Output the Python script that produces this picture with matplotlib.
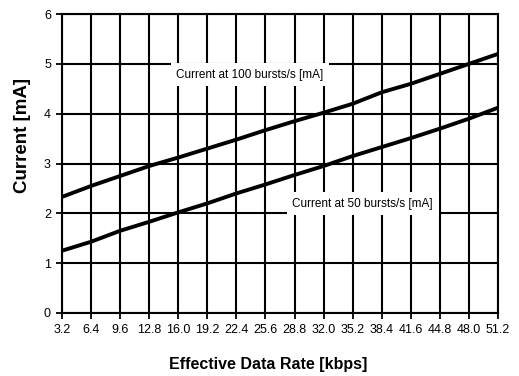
import numpy as np
import matplotlib
matplotlib.use("Agg")
import matplotlib.pyplot as plt

plt.rcParams['font.family'] = ['Liberation Sans Narrow', 'Liberation Sans', 'DejaVu Sans']

rate = [3.2, 6.4, 9.6, 12.8, 16.0, 19.2, 22.4, 25.6, 28.8, 32.0, 35.2, 38.4, 41.6, 44.8, 48.0, 51.2]
cur_100 = [2.33, 2.55, 2.75, 2.95, 3.12, 3.30, 3.48, 3.67, 3.85, 4.02, 4.20, 4.43, 4.60, 4.80, 5.00, 5.20]
cur_50 = [1.25, 1.43, 1.65, 1.83, 2.02, 2.20, 2.40, 2.58, 2.77, 2.95, 3.15, 3.33, 3.51, 3.70, 3.90, 4.12]
tick_labels = ['3.2', '6.4', '9.6', '12.8', '16.0', '19.2', '22.4', '25.6', '28.8',
               '32.0', '35.2', '38.4', '41.6', '44.8', '48.0', '51.2']

fig = plt.figure(figsize=(5.19, 3.76), dpi=100)
ax = fig.add_axes([0.1195, 0.1676, 0.84, 0.795])

ax.plot(rate, cur_100, color='black', lw=2.8, solid_capstyle='butt', zorder=3)
ax.plot(rate, cur_50, color='black', lw=2.8, solid_capstyle='butt', zorder=3)

ax.set_xlim(3.2, 51.2)
ax.set_ylim(0, 6)
ax.set_xticks(rate)
ax.set_xticklabels(tick_labels)
ax.set_yticks(range(7))
ax.grid(True, color='black', lw=1.5)
ax.set_axisbelow(True)
for s in ax.spines.values():
    s.set_linewidth(1.5)
ax.tick_params(axis='both', labelsize=9, length=4, width=1.3, pad=4)

box = dict(facecolor='white', edgecolor='none', pad=4)
ax.text(23.9, 4.78, 'Current at 100 bursts/s [mA]', fontsize=8.5, ha='center', va='center', bbox=box, zorder=2)
ax.text(36.3, 2.19, 'Current at 50 bursts/s [mA]', fontsize=8.5, ha='center', va='center', bbox=box, zorder=2)

ax.set_xlabel('Effective Data Rate [kbps]', fontsize=11.5, fontweight='bold')
ax.set_ylabel('Current [mA]', fontsize=13.5, fontweight='bold')
ax.xaxis.set_label_coords(0.472, -0.146)
ax.yaxis.set_label_coords(-0.072, 0.595)

fig.savefig('out.png', dpi=100)
